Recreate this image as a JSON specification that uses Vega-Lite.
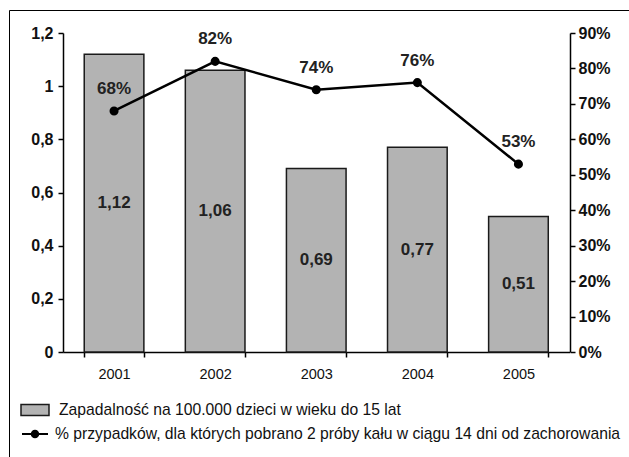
{
  "$schema": "https://vega.github.io/schema/vega-lite/v6.json",
  "width": 620,
  "height": 447,
  "autosize": {"type": "none"},
  "padding": {"left": 9, "top": 10, "right": 0, "bottom": 0},
  "config": {
    "locale": {"number": {"decimal": ",", "thousands": ".", "grouping": [3], "currency": ["", " zł"]}},
    "view": {"stroke": "#000", "strokeWidth": 1},
    "font": "Liberation Sans",
    "axis": {"domainColor": "#000", "tickColor": "#000", "grid": false, "labelColor": "#111", "domainWidth": 1.5, "tickWidth": 1.5, "tickSize": 5, "title": null}
  },
  "data": {"values": [
    {"year": "2001", "rate": 1.12, "pct": 0.68},
    {"year": "2002", "rate": 1.06, "pct": 0.82},
    {"year": "2003", "rate": 0.69, "pct": 0.74},
    {"year": "2004", "rate": 0.77, "pct": 0.76},
    {"year": "2005", "rate": 0.51, "pct": 0.53}
  ]},
  "encoding": {
    "x": {"field": "year", "type": "nominal",
      "scale": {"range": [54, 560.5], "paddingInner": 0.41, "paddingOuter": 0.21},
      "axis": {"orient": "bottom", "offset": -105, "labelAngle": 0, "tickBand": "extent", "labelFontSize": 14.5, "labelPadding": 10, "title": null}}
  },
  "layer": [
    {
      "mark": {"type": "bar", "fill": "#b3b3b3", "stroke": "#1a1a1a", "strokeWidth": 1.5},
      "encoding": {
        "y": {"field": "rate", "type": "quantitative",
          "scale": {"domain": [0, 1.2], "range": [342, 23], "nice": false, "zero": true},
          "axis": {"orient": "left", "offset": -54, "values": [0, 0.2, 0.4, 0.6, 0.8, 1, 1.2], "format": "~g", "labelFontWeight": "bold", "labelFontSize": 16, "labelPadding": 5, "title": null}},
        "fill": {"datum": "Zapadalność na 100.000 dzieci w wieku do 15 lat", "type": "nominal",
          "scale": {"range": ["#b3b3b3"]},
          "legend": {"orient": "none", "legendX": 11, "legendY": 385, "title": null, "padding": 0,
            "symbolType": "M-1,-0.39H1V0.39H-1Z", "symbolSize": 784, "symbolStrokeColor": "#1a1a1a", "symbolStrokeWidth": 1.5,
            "labelFontSize": 15.7, "labelOffset": 9, "labelColor": "#111", "labelLimit": 0}}
      }
    },
    {
      "mark": {"type": "text", "fontSize": 17, "fontWeight": "bold", "color": "#222", "baseline": "middle"},
      "encoding": {
        "y": {"field": "rate", "type": "quantitative", "scale": {"domain": [0, 2.4], "range": [342, 23], "nice": false}, "axis": null},
        "text": {"field": "rate", "type": "quantitative", "format": ".2f"}
      }
    },
    {
      "mark": {"type": "line", "color": "#000", "strokeWidth": 2.5, "point": {"filled": true, "size": 50, "color": "#000"}},
      "encoding": {
        "y": {"field": "pct", "type": "quantitative",
          "scale": {"domain": [0, 0.9], "range": [342, 23], "nice": false},
          "axis": {"orient": "right", "offset": -59, "values": [0, 0.1, 0.2, 0.3, 0.4, 0.5, 0.6, 0.7, 0.8, 0.9], "format": ".0%", "labelFontWeight": "bold", "labelFontSize": 16, "labelPadding": 3, "title": null}},
        "stroke": {"datum": "% przypadków, dla których pobrano 2 próby kału w ciągu 14 dni od zachorowania", "type": "nominal",
          "scale": {"range": ["#000"]},
          "legend": {"orient": "none", "legendX": 12, "legendY": 410, "title": null, "padding": 0,
            "symbolType": "M-1,0H1M-0.25,0A0.25,0.25,0,1,1,0.25,0A0.25,0.25,0,1,1,-0.25,0Z", "symbolSize": 676, "symbolFillColor": "#000", "symbolStrokeWidth": 2,
            "labelFontSize": 15.7, "labelOffset": 6, "labelColor": "#111", "labelLimit": 0}}
      }
    },
    {
      "mark": {"type": "text", "fontSize": 17, "fontWeight": "bold", "color": "#222", "baseline": "middle", "dy": -22},
      "encoding": {
        "y": {"field": "pct", "type": "quantitative", "scale": {"domain": [0, 0.9], "range": [342, 23], "nice": false}, "axis": null},
        "text": {"field": "pct", "type": "quantitative", "format": ".0%"}
      }
    }
  ],
  "resolve": {"scale": {"y": "independent"}}
}
